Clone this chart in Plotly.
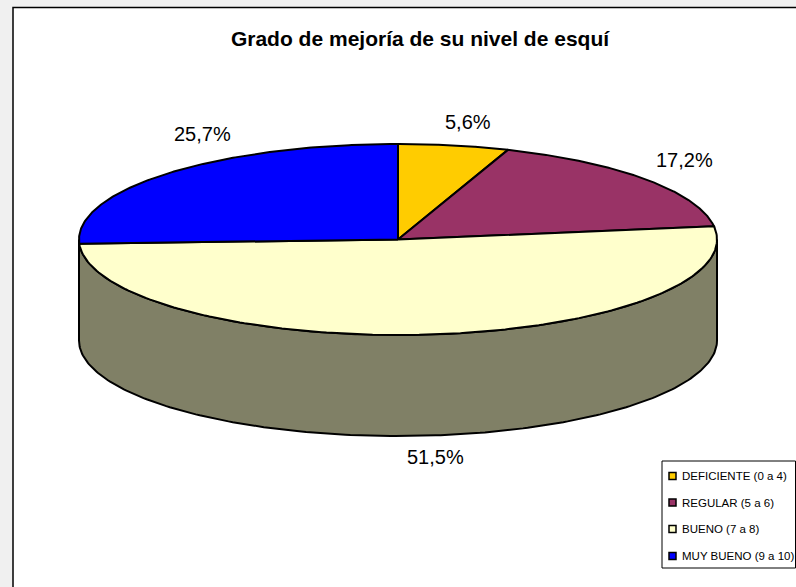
import numpy as np
import plotly.graph_objects as go

categories = ["DEFICIENTE (0 a 4)", "REGULAR (5 a 6)", "BUENO (7 a 8)", "MUY BUENO (9 a 10)"]
values = [5.6, 17.2, 51.5, 25.7]
labels = ["5,6%", "17,2%", "51,5%", "25,7%"]
colors = ["#FFCC00", "#993366", "#FFFFCC", "#0000FF"]
side_color = "#808066"

W, H = 796, 587
CX, CY, RX, RY, DEPTH = 398, 239.5, 319, 95.5, 101
label_pos = [(468, 122), (684, 160), (435, 457), (202, 134)]
legend_rows = [476, 502.5, 529, 556]


def ell(t):
    return CX + RX * np.sin(t), CY - RY * np.cos(t)


fig = go.Figure()
# frame
fig.add_shape(type="rect", x0=13, y0=7.5, x1=W + 20, y1=H + 20,
              line=dict(color="#000000", width=1.5), fillcolor="#FFFFFF", layer="below")
# legend box
fig.add_shape(type="rect", x0=662, y0=461, x1=795.5, y1=568,
              line=dict(color="#000000", width=1), fillcolor="#FFFFFF", layer="below")

edges = np.cumsum([0] + values) / sum(values) * 2 * np.pi
line = dict(color="#000000", width=2)

# side wall of the front half
ts = np.linspace(np.pi / 2, 3 * np.pi / 2, 200)
x, y = ell(ts)
fig.add_trace(go.Scatter(
    x=np.r_[x, x[::-1], x[0]], y=np.r_[y, (y + DEPTH)[::-1], y[0]], mode="lines", fill="toself",
    fillcolor=side_color, line=line, showlegend=False, hoverinfo="skip"))

# top face slices
for i, (a, b) in enumerate(zip(edges[:-1], edges[1:])):
    ts = np.linspace(a, b, 200)
    x, y = ell(ts)
    fig.add_trace(go.Scatter(
        x=np.r_[CX, x, CX], y=np.r_[CY, y, CY], mode="lines", fill="toself",
        fillcolor=colors[i], line=line, showlegend=False, hoverinfo="skip"))

# legend swatches
fig.add_trace(go.Scatter(
    x=[672.5] * len(categories), y=legend_rows, mode="markers", showlegend=False, hoverinfo="skip",
    marker=dict(symbol="square", size=7, color=colors, line=dict(color="#000000", width=1.5))))

annotations = [
    dict(x=px, y=py, text=t, showarrow=False, xanchor="center", yanchor="middle",
         font=dict(family="Liberation Sans", size=20, color="#000000"))
    for (px, py), t in zip(label_pos, labels)
] + [
    dict(x=681, y=ry, text=name, showarrow=False, xanchor="left", yanchor="middle", xshift=-1,
         font=dict(family="Liberation Sans", size=11.5, color="#000000"))
    for ry, name in zip(legend_rows, categories)
]

fig.update_layout(
    width=W, height=H, margin=dict(l=0, r=0, t=0, b=0), showlegend=False,
    paper_bgcolor="#F0F0F0", plot_bgcolor="rgba(0,0,0,0)",
    xaxis=dict(range=[0, W], visible=False, fixedrange=True),
    yaxis=dict(range=[H, 0], visible=False, fixedrange=True),
    title=dict(text="<b>Grado de mejoría de su nivel de esquí</b>", x=420 / W, xanchor="center",
               y=1 - 39 / H, yanchor="middle",
               font=dict(family="Liberation Sans", size=21, color="#000000")),
    annotations=annotations,
)
fig.write_html("out.html", config={"displayModeBar": False},
               post_script="document.body.style.margin='0';document.body.style.overflow='hidden';")
